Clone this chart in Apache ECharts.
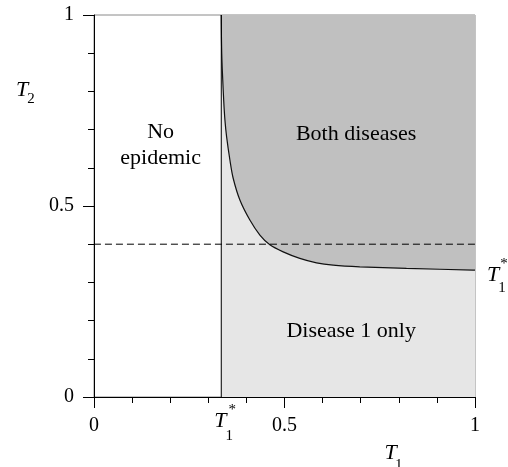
<!DOCTYPE html>
<html>
<head>
<meta charset="utf-8">
<script src="https://cdn.jsdelivr.net/npm/echarts@6/dist/echarts.min.js"></script>
<style>html,body{margin:0;padding:0;background:#fff}#c{width:508px;height:467px}</style>
</head>
<body>
<div id="c"></div>
<script>
// ---- data ----
var T1_STAR = 0.334;       // epidemic threshold of disease 1
var T2_DASHED = 0.4;       // dashed reference level
var curveT1 = [0.334, 0.3343, 0.3348, 0.3358, 0.3375, 0.3405, 0.3436, 0.348, 0.3567, 0.3653, 0.3829, 0.4091, 0.4354, 0.4616, 0.4965, 0.5402, 0.584, 0.6276, 0.6976, 0.8201, 0.9948, 1.0];
var curveT2 = [1.0, 0.96, 0.92, 0.88, 0.839, 0.775, 0.7255, 0.6817, 0.6205, 0.5726, 0.5157, 0.4633, 0.424, 0.3985, 0.380, 0.3629, 0.3513, 0.3453, 0.3409, 0.3367, 0.3322, 0.332];
var tickLabels = ['0', '0.5', '1'];
var regionLabels = [
  {text: 'No', x: 0.175, y: 0.693},
  {text: 'epidemic', x: 0.175, y: 0.626},
  {text: 'Both diseases', x: 0.688, y: 0.688},
  {text: 'Disease 1 only', x: 0.675, y: 0.172}
];

var FONT = "'Liberation Serif','Times New Roman',serif";
var chart = echarts.init(document.getElementById('c'), null, {renderer: 'canvas'});

var curve = curveT1.map(function (t, i) { return [t, curveT2[i]]; });

function axisCommon() {
  return {
    type: 'value', min: 0, max: 1, interval: 0.5,
    axisLine: {show: true, onZero: false, lineStyle: {color: '#000', width: 1}},
    axisTick: {show: true, inside: false, length: 11, lineStyle: {color: '#000', width: 1}},
    minorTick: {show: true, splitNumber: 5, length: 6, lineStyle: {color: '#000', width: 1}},
    splitLine: {show: false},
    minorSplitLine: {show: false},
    axisLabel: {
      color: '#000', fontSize: 20, fontFamily: FONT,
      formatter: function (v) { return v === 0 ? tickLabels[0] : (v === 0.5 ? tickLabels[1] : tickLabels[2]); }
    }
  };
}
var xa = axisCommon(); xa.axisLabel.margin = 19;
var ya = axisCommon(); ya.axisLabel.margin = 20;

chart.setOption({
  animation: false,
  grid: {left: 94, right: 33, top: 15, bottom: 70, show: true, borderColor: '#8a8a8a', borderWidth: 1, backgroundColor: 'transparent'},
  xAxis: xa,
  yAxis: ya,
  series: [
    {
      type: 'line', z: 1, silent: true, symbol: 'none',
      data: [[T1_STAR, 1], [1, 1]],
      lineStyle: {width: 0},
      areaStyle: {color: '#c0c0c0', opacity: 1}
    },
    {
      type: 'line', z: 2, silent: true, symbol: 'none', smooth: 0.3,
      data: curve,
      lineStyle: {color: '#111', width: 1.2},
      areaStyle: {color: '#e6e6e6', opacity: 1}
    },
    {
      type: 'line', z: 3, silent: true, symbol: 'none',
      data: [[T1_STAR, 0], [T1_STAR, 1]],
      lineStyle: {color: '#000', width: 1}
    },
    {
      type: 'line', z: 3, silent: true, symbol: 'none', clip: false,
      data: [[-0.029, T2_DASHED], [1, T2_DASHED]],
      lineStyle: {color: '#000', width: 1, type: [7, 4]}
    }
  ]
});

function px(x, y) { return chart.convertToPixel({gridIndex: 0}, [x, y]); }
var g = [];
function txt(s, p, size, italic) {
  g.push({type: 'text', x: p[0], y: p[1], z: 100, silent: true,
    style: {text: s, fill: '#000', fontSize: size, fontFamily: FONT, fontStyle: italic ? 'italic' : 'normal', align: 'center', verticalAlign: 'middle'}});
}
regionLabels.forEach(function (r) { txt(r.text, px(r.x, r.y), 22, false); });

function sym(base, sub, sup, anchor, subOff, supOff) {
  txt(base, anchor, 22, true);
  if (sub) txt(sub, [anchor[0] + subOff[0], anchor[1] + subOff[1]], 15, false);
  if (sup) txt(sup, [anchor[0] + supOff[0], anchor[1] + supOff[1]], 15, false);
}
var a1 = px(T1_STAR, 0); sym('T', '1', '*', [a1[0] - 1, a1[1] + 24], [9, 15], [12, -11]);
var a2 = px(1, 0.332); sym('T', '1', '*', [a2[0] + 18, a2[1] + 5], [9, 13], [11, -11]);
var a3 = px(0.78, 0); sym('T', '1', null, [a3[0] - 0.5, a3[1] + 56], [8, 12], null);
var a4 = px(0, 0.80); sym('T', '2', null, [a4[0] - 72, a4[1] - 1], [9, 9], null);

chart.setOption({graphic: g});
</script>
</body>
</html>
